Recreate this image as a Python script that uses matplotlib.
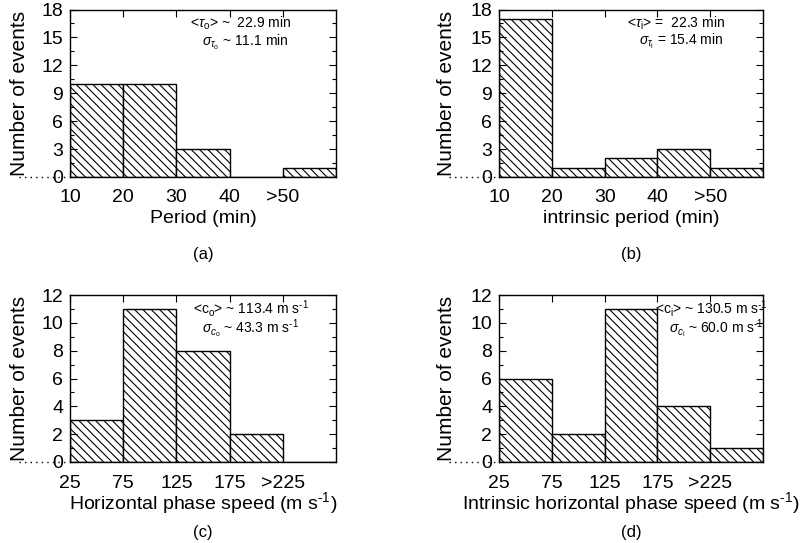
import numpy as np
import matplotlib
matplotlib.use("Agg")
import matplotlib.pyplot as plt
from matplotlib.ticker import MultipleLocator, FixedLocator

plt.rcParams.update({
    "font.family": ["Liberation Sans", "DejaVu Sans"],
    "mathtext.fontset": "custom",
    "mathtext.rm": "Liberation Sans",
    "mathtext.it": "Liberation Sans:italic",
    "mathtext.bf": "Liberation Sans:bold",
    "hatch.linewidth": 0.8,
    "axes.linewidth": 1.0,
})

# Histogram counts per bin
period_counts = [10, 10, 3, 0, 1]
intrinsic_period_counts = [17, 1, 2, 3, 1]
phase_speed_counts = [3, 11, 8, 2, 0]
intrinsic_speed_counts = [6, 2, 11, 4, 1]

# Bin edges and tick labels
period_edges = [10, 20, 30, 40, 50, 60]
period_ticklabels = ["10", "20", "30", "40", ">50"]
speed_edges = [25, 75, 125, 175, 225, 275]
speed_ticklabels = ["25", "75", "125", "175", ">225"]

# Statistics annotations
stats_a = [r"<$\tau_{\rm o}$> ~  22.9 min", r"$\sigma_{\tau_{\rm o}}$ ~ 11.1 min"]
stats_b = [r"<$\tau_{\rm i}$> =  22.3 min", r"$\sigma_{\tau_{\rm i}}$ = 15.4 min"]
stats_c = [r"<c$_{\rm o}$> ~ 113.4 m s$^{\text{-1}}$",
           r"$\sigma_{c_{\rm o}}$ ~ 43.3 m s$^{\text{-1}}$"]
stats_d = [r"<c$_{\rm i}$> ~ 130.5 m s$^{\text{-1}}$",
           r"$\sigma_{c_{\rm i}}$ ~ 60.0 m s$^{\text{-1}}$"]

fig = plt.figure(figsize=(8.02, 5.43), dpi=100)

W, H = 802.0, 543.0


def make_axes(left, top, right, bottom):
    return fig.add_axes([left / W, 1 - bottom / H, (right - left) / W, (bottom - top) / H])


panels = [
    dict(box=(70, 9.5, 336, 177), counts=period_counts, edges=period_edges,
         ticklabels=period_ticklabels, ymax=18, ystep=3,
         xlabel="Period (min)", tag="(a)", tag_y=-0.46, ylab_x=-0.188,
         stats=stats_a, spos=[(0.643, 0.919), (0.658, 0.806)]),
    dict(box=(499, 9.5, 763, 177), counts=intrinsic_period_counts, edges=period_edges,
         ticklabels=period_ticklabels, ymax=18, ystep=3,
         xlabel="intrinsic period (min)", tag="(b)", tag_y=-0.46, ylab_x=-0.197,
         stats=stats_b, spos=[(0.670, 0.919), (0.689, 0.810)]),
    dict(box=(70, 295, 336, 462), counts=phase_speed_counts, edges=speed_edges,
         ticklabels=speed_ticklabels, ymax=12, ystep=2,
         xlabel=r"Horizontal phase speed (m s$^{\text{-1}}$)", tag="(c)", tag_y=-0.425,
         ylab_x=-0.188, stats=stats_c, spos=[(0.679, 0.918), (0.677, 0.800)]),
    dict(box=(499, 295, 763, 462), counts=intrinsic_speed_counts, edges=speed_edges,
         ticklabels=speed_ticklabels, ymax=12, ystep=2,
         xlabel=r"Intrinsic horizontal phase speed (m s$^{\text{-1}}$)", tag="(d)",
         tag_y=-0.425, ylab_x=-0.197, stats=stats_d,
         spos=[(0.805, 0.918), (0.822, 0.800)]),
]

for p in panels:
    ax = make_axes(*p["box"])
    edges = np.array(p["edges"], dtype=float)
    ax.bar(edges[:-1], p["counts"], width=np.diff(edges), align="edge",
           facecolor="white", edgecolor="black", linewidth=1.0, hatch="\\\\\\\\")
    ax.set_xlim(edges[0], edges[-1])
    ax.set_ylim(0, p["ymax"])
    ax.xaxis.set_major_locator(FixedLocator(edges[:-1]))
    ax.set_xticklabels(p["ticklabels"])
    ax.yaxis.set_major_locator(MultipleLocator(p["ystep"]))
    ax.yaxis.set_minor_locator(MultipleLocator(p["ystep"] / 2))
    ax.tick_params(axis="both", which="major", direction="in", length=5, width=0.8,
                   top=True, right=True, labelsize=14)
    ax.tick_params(axis="y", which="minor", direction="in", length=3, width=0.8,
                   right=True)
    ax.tick_params(axis="x", which="major", pad=9)
    ax.tick_params(axis="y", which="major", pad=5)

    ax.set_xlabel(p["xlabel"], fontsize=14)
    ax.xaxis.set_label_coords(0.5, -0.245)
    ax.xaxis.label.set_va("center")

    ax.set_ylabel("Number of events", fontsize=15)
    ax.yaxis.set_label_coords(p["ylab_x"], 0.5)
    ax.yaxis.label.set_va("center")

    ax.text(0.5, p["tag_y"], p["tag"], transform=ax.transAxes, ha="center",
            va="center", fontsize=12)
    # dotted baseline extension left of the axis
    ax.plot([-0.19, -0.01], [0, 0], transform=ax.transAxes, color="black",
            linestyle=(0, (1, 3)), linewidth=1.0, clip_on=False)
    for s, (sx, sy) in zip(p["stats"], p["spos"]):
        ax.text(sx, sy, s, transform=ax.transAxes, ha="center", va="center",
                fontsize=10)

fig.savefig("out.png", dpi=100)
